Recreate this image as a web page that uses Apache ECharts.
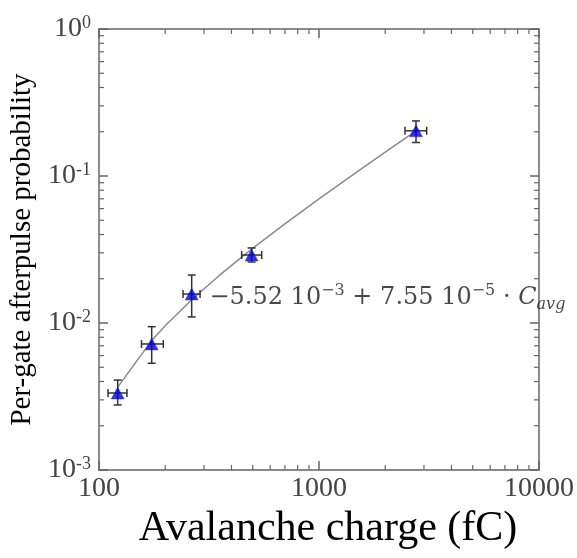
<!DOCTYPE html>
<html>
<head>
<meta charset="utf-8">
<script src="https://cdn.jsdelivr.net/npm/echarts@6/dist/echarts.min.js"></script>
<style>
  html, body { margin: 0; padding: 0; background: #fff; }
  #chart { width: 577px; height: 558px; }
</style>
</head>
<body>
<div id="chart"></div>
<script>
// Measured afterpulse probability against mean avalanche charge
const charge     = [121.6, 173.6, 263.8, 494, 2760];        // fC
const chargeLow  = [109.9, 156, 241, 445, 2460];
const chargeHigh = [134, 196, 288, 549, 3087];
const prob       = [0.00334, 0.0072, 0.01574, 0.029, 0.203];
const probLow    = [0.00277, 0.00532, 0.0110, 0.0260, 0.169];
const probHigh   = [0.00409, 0.00944, 0.0212, 0.0324, 0.237];

// Linear fit P = -5.52e-3 + 7.55e-5 * C_avg, sampled along the charge range
const fitCharge = [121.6, 173.6, 200, 263.8, 350, 494, 700, 1000, 1500, 2000, 2760];
const fitProb   = [0.00366, 0.00759, 0.00958, 0.0144, 0.0209, 0.0318, 0.0473, 0.0700, 0.1077, 0.1455, 0.2029];

// Axis ranges and minor tick values
const xRange = [100, 10000];
const yRange = [0.001, 1];
const xMinorTicks = [200, 300, 400, 500, 600, 700, 800, 900,
                     2000, 3000, 4000, 5000, 6000, 7000, 8000, 9000];
const yMinorTicks = [0.002, 0.003, 0.004, 0.005, 0.006, 0.007, 0.008, 0.009,
                     0.02, 0.03, 0.04, 0.05, 0.06, 0.07, 0.08, 0.09,
                     0.2, 0.3, 0.4, 0.5, 0.6, 0.7, 0.8, 0.9];

const SERIF = '"Liberation Serif", "Times New Roman", serif';
const MATH = '"DejaVu Serif", serif';
const AXIS_COLOR = '#666';
const MINOR_LEN = 5;

const chart = echarts.init(document.getElementById('chart'), null, { renderer: 'canvas' });

const powerLabel = v => {
  const e = Math.round(Math.log10(v));
  return '{b|10}{s|' + e + '}';
};

const commonAxisLine = { show: true, lineStyle: { color: AXIS_COLOR, width: 1.5 } };
const majorTick = { show: true, inside: true, length: 9, lineStyle: { color: AXIS_COLOR, width: 1.5 } };

const option = {
  backgroundColor: '#fff',
  animation: false,
  grid: { left: 99, right: 38, top: 29, bottom: 88, containLabel: false, outerBoundsMode: 'none' },
  xAxis: [
    {
      type: 'log', logBase: 10, min: xRange[0], max: xRange[1],
      position: 'bottom',
      name: 'Avalanche charge (fC)',
      nameLocation: 'middle',
      nameGap: 36,
      nameTextStyle: { fontFamily: SERIF, fontSize: 42, color: '#000', padding: [0, 0, 0, 18] },
      axisLine: commonAxisLine,
      axisTick: majorTick,
      axisLabel: { fontFamily: SERIF, fontSize: 28, color: '#444', margin: 5, formatter: v => String(Math.round(v)) },
      splitLine: { show: false }
    },
    {
      type: 'log', logBase: 10, min: xRange[0], max: xRange[1],
      position: 'top',
      axisLine: commonAxisLine,
      axisTick: majorTick,
      axisLabel: { show: false },
      splitLine: { show: false }
    }
  ],
  yAxis: [
    {
      type: 'log', logBase: 10, min: yRange[0], max: yRange[1],
      position: 'left',
      name: 'Per-gate afterpulse probability',
      nameLocation: 'middle',
      nameGap: 57,
      nameTextStyle: { fontFamily: SERIF, fontSize: 29, color: '#000', padding: [0, 0, 0, 0] },
      axisLine: commonAxisLine,
      axisTick: majorTick,
      axisLabel: {
        margin: 8,
        formatter: powerLabel,
        rich: {
          b: { fontFamily: SERIF, fontSize: 28, color: '#444', lineHeight: 30 },
          s: { fontFamily: SERIF, fontSize: 18, color: '#444', lineHeight: 30, verticalAlign: 'top', padding: [0, 0, 14, 0] }
        }
      },
      splitLine: { show: false }
    },
    {
      type: 'log', logBase: 10, min: yRange[0], max: yRange[1],
      position: 'right',
      axisLine: commonAxisLine,
      axisTick: majorTick,
      axisLabel: { show: false },
      splitLine: { show: false }
    }
  ],
  series: [
    // minor ticks on bottom and top edges
    {
      type: 'custom',
      silent: true,
      clip: false,
      data: xMinorTicks.map(v => [v, yRange[0]]),
      renderItem: (params, api) => {
        const v = api.value(0);
        const b = api.coord([v, yRange[0]]);
        const t = api.coord([v, yRange[1]]);
        const style = { stroke: AXIS_COLOR, lineWidth: 1.2 };
        return {
          type: 'group',
          children: [
            { type: 'line', shape: { x1: b[0], y1: b[1], x2: b[0], y2: b[1] - MINOR_LEN }, style },
            { type: 'line', shape: { x1: t[0], y1: t[1], x2: t[0], y2: t[1] + MINOR_LEN }, style }
          ]
        };
      },
      z: 1
    },
    // minor ticks on left and right edges
    {
      type: 'custom',
      silent: true,
      clip: false,
      data: yMinorTicks.map(v => [xRange[0], v]),
      renderItem: (params, api) => {
        const v = api.value(1);
        const l = api.coord([xRange[0], v]);
        const r = api.coord([xRange[1], v]);
        const style = { stroke: AXIS_COLOR, lineWidth: 1.2 };
        return {
          type: 'group',
          children: [
            { type: 'line', shape: { x1: l[0], y1: l[1], x2: l[0] + MINOR_LEN, y2: l[1] }, style },
            { type: 'line', shape: { x1: r[0], y1: r[1], x2: r[0] - MINOR_LEN, y2: r[1] }, style }
          ]
        };
      },
      z: 1
    },
    // fit curve
    {
      type: 'line',
      data: fitCharge.map((c, i) => [c, fitProb[i]]),
      showSymbol: false,
      symbol: 'none',
      lineStyle: { color: '#8a8a8a', width: 1.5 },
      silent: true,
      z: 2
    },
    // error bars in charge and probability
    {
      type: 'custom',
      silent: true,
      data: charge.map((c, i) => [c, prob[i], chargeLow[i], chargeHigh[i], probLow[i], probHigh[i]]),
      renderItem: (params, api) => {
        const x = api.value(0), y = api.value(1);
        const left = api.coord([api.value(2), y]);
        const right = api.coord([api.value(3), y]);
        const bottom = api.coord([x, api.value(4)]);
        const top = api.coord([x, api.value(5)]);
        const cap = 4;
        const style = { stroke: '#333', lineWidth: 1.5 };
        return {
          type: 'group',
          children: [
            { type: 'line', shape: { x1: top[0], y1: top[1], x2: bottom[0], y2: bottom[1] }, style },
            { type: 'line', shape: { x1: top[0] - cap, y1: top[1], x2: top[0] + cap, y2: top[1] }, style },
            { type: 'line', shape: { x1: bottom[0] - cap, y1: bottom[1], x2: bottom[0] + cap, y2: bottom[1] }, style },
            { type: 'line', shape: { x1: left[0], y1: left[1], x2: right[0], y2: right[1] }, style },
            { type: 'line', shape: { x1: left[0], y1: left[1] - cap, x2: left[0], y2: left[1] + cap }, style },
            { type: 'line', shape: { x1: right[0], y1: right[1] - cap, x2: right[0], y2: right[1] + cap }, style }
          ]
        };
      },
      z: 3
    },
    // measured points
    {
      type: 'scatter',
      symbol: 'triangle',
      symbolSize: [13, 12],
      itemStyle: { color: '#0000d2', borderColor: '#2a2ae0', borderWidth: 0.5 },
      data: charge.map((c, i) => {
        const item = { value: [c, prob[i]] };
        if (i === 2) {
          item.label = {
            show: true,
            position: 'right',
            distance: 11,
            offset: [0, 4],
            formatter: '{m|−5.52 10}{s|−3}{m| + 7.55 10}{s|−5}{m| · }{c|C}{u|avg}',
            rich: {
              m: { fontFamily: MATH, fontSize: 24, color: '#1a1a1a', lineHeight: 30 },
              s: { fontFamily: MATH, fontSize: 16, color: '#1a1a1a', lineHeight: 30, verticalAlign: 'top', padding: [0, 0, 12, 0] },
              c: { fontFamily: MATH, fontStyle: 'italic', fontSize: 24, color: '#1a1a1a', lineHeight: 30 },
              u: { fontFamily: MATH, fontStyle: 'italic', fontSize: 16, color: '#1a1a1a', lineHeight: 30, verticalAlign: 'bottom', padding: [8, 0, 0, 0] }
            }
          };
        }
        return item;
      }),
      z: 4
    }
  ]
};

chart.setOption(option);
</script>
</body>
</html>
